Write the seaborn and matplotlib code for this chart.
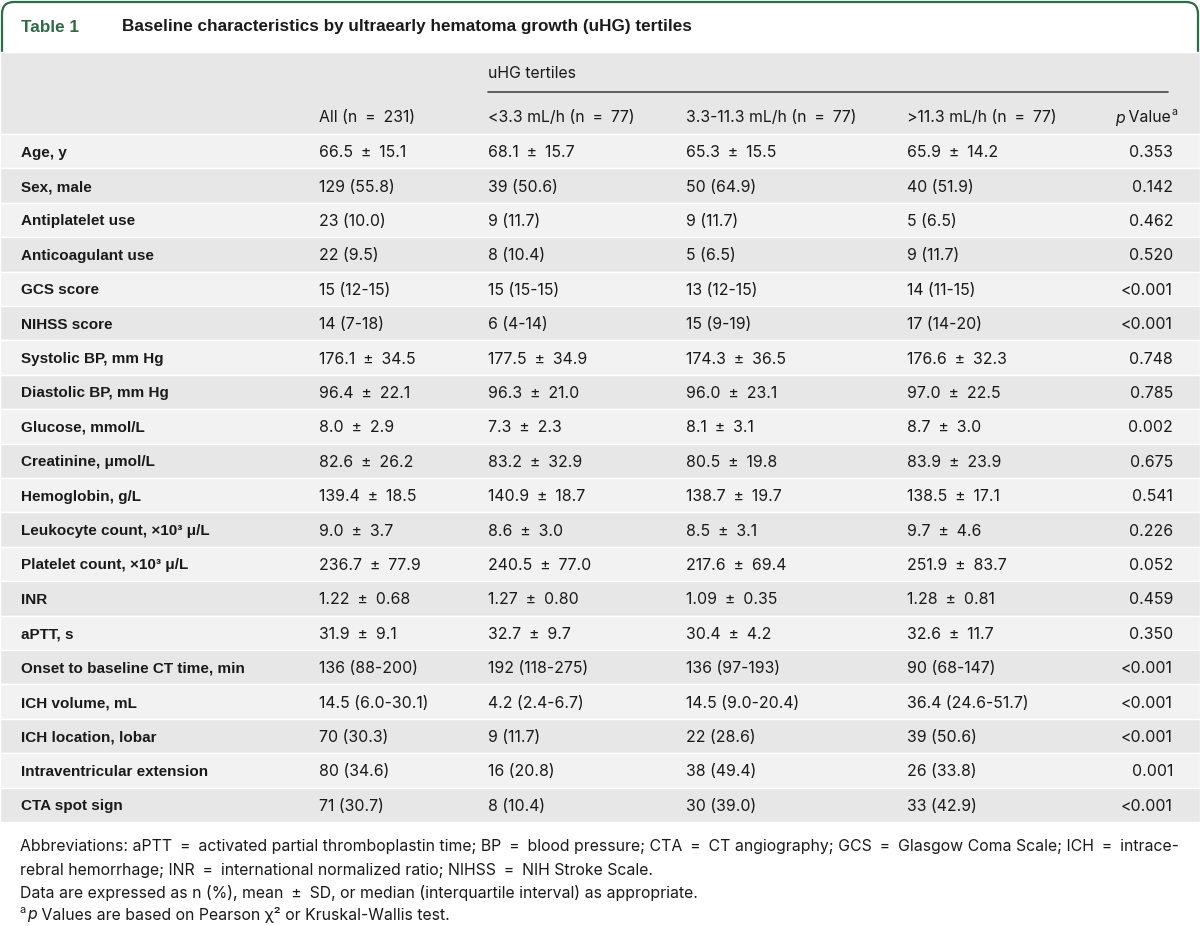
import matplotlib
matplotlib.use("Agg")
import matplotlib.pyplot as plt
from matplotlib import font_manager
from matplotlib.patches import FancyBboxPatch
import seaborn as sns

# ---------------- data ----------------
title_label = "Table 1"
title_text = "Baseline characteristics by ultraearly hematoma growth (uHG) tertiles"
group_header = "uHG tertiles"
col_headers = ["All (n = 231)", "<3.3 mL/h (n = 77)", "3.3-11.3 mL/h (n = 77)", ">11.3 mL/h (n = 77)"]

row_labels = [
    "Age, y", "Sex, male", "Antiplatelet use", "Anticoagulant use", "GCS score",
    "NIHSS score", "Systolic BP, mm Hg", "Diastolic BP, mm Hg", "Glucose, mmol/L",
    "Creatinine, \u03bcmol/L", "Hemoglobin, g/L", "Leukocyte count, \u00d710\u00b3 \u03bc/L",
    "Platelet count, \u00d710\u00b3 \u03bc/L", "INR", "aPTT, s", "Onset to baseline CT time, min",
    "ICH volume, mL", "ICH location, lobar", "Intraventricular extension", "CTA spot sign",
]
all_vals = [
    "66.5 \u00b1 15.1", "129 (55.8)", "23 (10.0)", "22 (9.5)", "15 (12-15)", "14 (7-18)",
    "176.1 \u00b1 34.5", "96.4 \u00b1 22.1", "8.0 \u00b1 2.9", "82.6 \u00b1 26.2", "139.4 \u00b1 18.5",
    "9.0 \u00b1 3.7", "236.7 \u00b1 77.9", "1.22 \u00b1 0.68", "31.9 \u00b1 9.1", "136 (88-200)",
    "14.5 (6.0-30.1)", "70 (30.3)", "80 (34.6)", "71 (30.7)",
]
low_vals = [
    "68.1 \u00b1 15.7", "39 (50.6)", "9 (11.7)", "8 (10.4)", "15 (15-15)", "6 (4-14)",
    "177.5 \u00b1 34.9", "96.3 \u00b1 21.0", "7.3 \u00b1 2.3", "83.2 \u00b1 32.9", "140.9 \u00b1 18.7",
    "8.6 \u00b1 3.0", "240.5 \u00b1 77.0", "1.27 \u00b1 0.80", "32.7 \u00b1 9.7", "192 (118-275)",
    "4.2 (2.4-6.7)", "9 (11.7)", "16 (20.8)", "8 (10.4)",
]
mid_vals = [
    "65.3 \u00b1 15.5", "50 (64.9)", "9 (11.7)", "5 (6.5)", "13 (12-15)", "15 (9-19)",
    "174.3 \u00b1 36.5", "96.0 \u00b1 23.1", "8.1 \u00b1 3.1", "80.5 \u00b1 19.8", "138.7 \u00b1 19.7",
    "8.5 \u00b1 3.1", "217.6 \u00b1 69.4", "1.09 \u00b1 0.35", "30.4 \u00b1 4.2", "136 (97-193)",
    "14.5 (9.0-20.4)", "22 (28.6)", "38 (49.4)", "30 (39.0)",
]
high_vals = [
    "65.9 \u00b1 14.2", "40 (51.9)", "5 (6.5)", "9 (11.7)", "14 (11-15)", "17 (14-20)",
    "176.6 \u00b1 32.3", "97.0 \u00b1 22.5", "8.7 \u00b1 3.0", "83.9 \u00b1 23.9", "138.5 \u00b1 17.1",
    "9.7 \u00b1 4.6", "251.9 \u00b1 83.7", "1.28 \u00b1 0.81", "32.6 \u00b1 11.7", "90 (68-147)",
    "36.4 (24.6-51.7)", "39 (50.6)", "26 (33.8)", "33 (42.9)",
]
p_values = [
    "0.353", "0.142", "0.462", "0.520", "<0.001", "<0.001", "0.748", "0.785", "0.002",
    "0.675", "0.541", "0.226", "0.052", "0.459", "0.350", "<0.001", "<0.001", "<0.001",
    "0.001", "<0.001",
]
footnote_lines = [
    "Abbreviations: aPTT = activated partial thromboplastin time; BP = blood pressure; CTA = CT angiography; "
    "GCS = Glasgow Coma Scale; ICH = intrace-",
    "rebral hemorrhage; INR = international normalized ratio; NIHSS = NIH Stroke Scale.",
    "Data are expressed as n (%), mean \u00b1 SD, or median (interquartile interval) as appropriate.",
]
footnote_last = " Values are based on Pearson \u03c7\u00b2 or Kruskal-Wallis test."

# ---------------- style ----------------
sns.set_theme(style="white")
available = {f.name for f in font_manager.fontManager.ttflist}
main_font = "Liberation Sans" if "Liberation Sans" in available else "DejaVu Sans"
val_font = "Inter" if "Inter" in available else main_font
plt.rcParams["font.family"] = [main_font, "DejaVu Sans"]
VAL_FAM = [val_font, "DejaVu Sans"]

GREEN = "#2d6b47"
HEADER_GRAY = "#e6e7e6"
LIGHT_ROW = "#f2f2f2"
DARK_ROW = "#e6e7e6"
TEXT = "#1a1a1a"
SP = "\u2002"  # en space around operators


def wide(s):
    return s.replace(" \u00b1 ", SP + "\u00b1" + SP).replace(" = ", SP + "=" + SP)


fig = plt.figure(figsize=(12, 9.26), dpi=100)
ax = fig.add_axes([0, 0, 1, 1])
ax.set_xlim(0, 1200)
ax.set_ylim(926, 0)
ax.axis("off")
renderer = fig.canvas.get_renderer()

# title frame
frame = FancyBboxPatch((2, 2), 1196, 120, boxstyle="round,pad=0,rounding_size=12",
                       facecolor="white", edgecolor=GREEN, linewidth=1.6, zorder=1)
ax.add_patch(frame)

# header band
header_top, header_bot = 52, 134
ax.barh([(header_top + header_bot) / 2], [1200], height=header_bot - header_top, left=0,
        color=HEADER_GRAY, zorder=2)

# rows
row_h = (822 - header_bot) / len(row_labels)
centers = [header_bot + row_h * (i + 0.5) for i in range(len(row_labels))]
colors = [LIGHT_ROW if i % 2 == 0 else DARK_ROW for i in range(len(row_labels))]
ax.barh(centers, [1200] * len(centers), height=row_h, left=0, color=colors, zorder=2)

fs_lab = 11.0
fs_val = 11.4
ax.text(21, 27, title_label, color=GREEN, fontsize=12.3, fontweight="bold", va="center",
        ha="left", zorder=5)
ax.text(122, 27, title_text, color=TEXT, fontsize=12.3, fontweight="bold", va="center",
        ha="left", zorder=5)

# header texts
col_x = [319, 488, 686, 907]
p_right = 1173
ax.text(488, 73, group_header, fontsize=fs_val, family=VAL_FAM, color=TEXT, va="center",
        ha="left", zorder=5)
ax.plot([488, 1168], [92, 92], color="#555555", lw=1.3, zorder=5)
for x, h in zip(col_x, col_headers):
    ax.text(x, 118, wide(h), fontsize=fs_val, family=VAL_FAM, color=TEXT, va="center",
            ha="left", zorder=5)


def width_of(t):
    return t.get_window_extent(renderer=renderer).width


# p Value^a header, right aligned
sup = ax.text(0, 112, "a", fontsize=7.5, family=VAL_FAM, color=TEXT, va="center", ha="left", zorder=5)
pv = ax.text(0, 118, "p", fontsize=fs_val, family=VAL_FAM, color=TEXT, style="italic",
             va="center", ha="left", zorder=5)
vv = ax.text(0, 118, " Value", fontsize=fs_val, family=VAL_FAM, color=TEXT, va="center",
             ha="left", zorder=5)
ws, wp, wv = width_of(sup), width_of(pv), width_of(vv)
start = p_right + 4 - (ws + wp + wv)
pv.set_x(start)
vv.set_x(start + wp)
sup.set_x(start + wp + wv + 0.5)

# body
for i, y in enumerate(centers):
    ax.text(21, y, row_labels[i], fontsize=fs_lab, fontweight="bold", color=TEXT,
            va="center_baseline", ha="left", zorder=5)
    for x, col in zip(col_x, [all_vals, low_vals, mid_vals, high_vals]):
        ax.text(x, y, wide(col[i]), fontsize=fs_val, family=VAL_FAM, color=TEXT,
                va="center_baseline", ha="left", zorder=5)
    ax.text(p_right, y, p_values[i], fontsize=fs_val, family=VAL_FAM, color=TEXT,
            va="center_baseline", ha="right", zorder=5)

# footnotes
fn_y = [847, 870, 893]
ffs = 11.4
for y, line in zip(fn_y, footnote_lines):
    ax.text(20, y, wide(line), fontsize=ffs, family=VAL_FAM, color=TEXT, va="center",
            ha="left", zorder=5)
fa = ax.text(20, 910, "a", fontsize=8, family=VAL_FAM, color=TEXT, va="center", ha="left", zorder=5)
wa = width_of(fa)
fp = ax.text(20 + wa + 1, 915, "p", fontsize=ffs, family=VAL_FAM, style="italic", color=TEXT,
             va="center", ha="left", zorder=5)
wpp = width_of(fp)
ax.text(20 + wa + 1 + wpp, 915, footnote_last, fontsize=ffs, family=VAL_FAM, color=TEXT,
        va="center", ha="left", zorder=5)

fig.savefig("out.png", dpi=100, facecolor="white")
